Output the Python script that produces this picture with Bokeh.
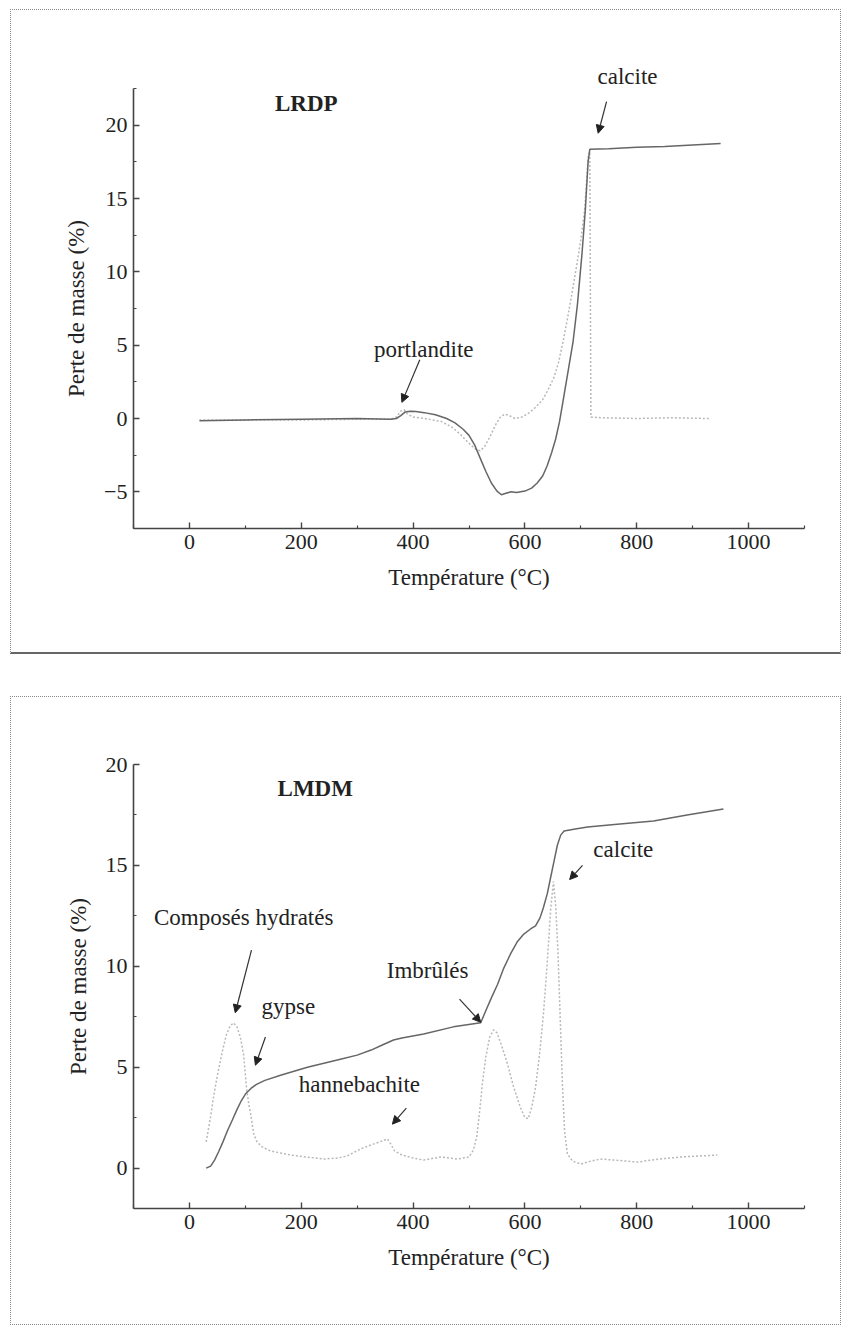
from bokeh.plotting import figure
from bokeh.layouts import column
from bokeh.models import Label, Arrow, NormalHead, Range1d, FixedTicker
from bokeh.embed import file_html
from bokeh.resources import INLINE

# ---- LRDP (top panel) ----
lrdp_tg_t = [18, 100, 200, 300, 360, 370, 378, 386, 395, 405, 420, 440, 460, 475, 490, 500, 510, 520, 530, 540,
             550, 558, 566, 575, 585, 600, 612, 622, 632, 640, 648, 655, 662, 670, 678, 686, 694, 702, 708, 713,
             716, 750, 800, 850, 900, 950]
lrdp_tg_v = [-0.15, -0.1, -0.05, 0.0, -0.05, 0.0, 0.2, 0.45, 0.5, 0.48, 0.4, 0.25, 0.0, -0.3, -0.75, -1.15, -1.8,
             -2.7, -3.6, -4.4, -4.95, -5.2, -5.1, -5.0, -5.05, -4.95, -4.75, -4.4, -3.9, -3.2, -2.3, -1.4, -0.2,
             1.6, 3.4, 5.2, 7.8, 11.2, 14.2, 17.5, 18.35, 18.4, 18.5, 18.55, 18.65, 18.75]
lrdp_dtg_t = [18, 100, 200, 300, 360, 370, 378, 384, 390, 400, 420, 450, 470, 485, 500, 512, 520, 528, 538, 548,
              556, 564, 572, 582, 595, 608, 620, 632, 642, 652, 660, 668, 676, 684, 692, 700, 707, 713, 716, 718,
              740, 800, 860, 930]
lrdp_dtg_v = [-0.1, -0.1, -0.1, -0.05, -0.05, 0.1, 0.5, 0.6, 0.3, 0.1, 0.0, -0.2, -0.6, -1.1, -1.7, -2.1, -2.2,
              -1.9, -1.2, -0.4, 0.1, 0.3, 0.2, 0.0, 0.1, 0.4, 0.8, 1.3, 2.0, 2.8, 3.8, 5.2, 6.8, 8.5, 10.3, 12.2,
              14.3, 17.8, 18.2, 0.1, 0.05, 0.0, 0.05, 0.0]

# ---- LMDM (bottom panel) ----
lmdm_tg_t = [30, 38, 45, 52, 60, 68, 77, 85, 93, 101, 110, 120, 135, 163, 211, 270, 300, 325, 345, 365, 380, 419,
             472, 521, 530, 541, 551, 562, 574, 586, 598, 610, 619, 627, 633, 640, 646, 652, 658, 664, 670, 690,
             712, 770, 830, 890, 955]
lmdm_tg_v = [0.0, 0.1, 0.4, 0.8, 1.3, 1.85, 2.4, 2.9, 3.35, 3.7, 3.95, 4.15, 4.35, 4.6, 5.0, 5.4, 5.6, 5.85, 6.1,
             6.35, 6.45, 6.65, 7.0, 7.2, 7.8, 8.5, 9.1, 9.9, 10.6, 11.2, 11.6, 11.85, 12.0, 12.4, 12.9, 13.6, 14.4,
             15.2, 16.0, 16.5, 16.7, 16.8, 16.9, 17.05, 17.2, 17.5, 17.8]
lmdm_dtg_t = [30, 37, 43, 50, 59, 66, 73, 79, 85, 91, 97, 102, 106, 110, 115, 121, 130, 145, 181, 210, 240, 265,
              282, 306, 330, 345, 354, 360, 367, 380, 400, 419, 449, 479, 500, 508, 514, 519, 524, 530, 537, 544,
              550, 558, 569, 580, 592, 600, 606, 612, 619, 626, 633, 640, 646, 651, 655, 659, 663, 667, 671, 676,
              685, 700, 718, 735, 760, 801, 840, 878, 944]
lmdm_dtg_v = [1.3, 2.4, 3.5, 4.6, 5.8, 6.6, 7.05, 7.2, 7.0, 6.5, 5.6, 4.0, 3.2, 2.6, 1.7, 1.3, 1.05, 0.85, 0.65,
              0.55, 0.45, 0.5, 0.6, 0.95, 1.2, 1.35, 1.45, 1.2, 0.85, 0.65, 0.5, 0.4, 0.55, 0.45, 0.55, 0.9, 1.6,
              2.8, 4.2, 5.5, 6.5, 6.85, 6.7, 6.1, 5.15, 4.0, 3.0, 2.5, 2.45, 3.0, 4.0, 5.6, 7.6, 10.2, 12.8, 14.2,
              13.0, 10.8, 7.5, 4.2, 1.8, 0.7, 0.35, 0.2, 0.35, 0.45, 0.4, 0.3, 0.45, 0.55, 0.65]

x_major = [0, 200, 400, 600, 800, 1000]
x_minor = [-100, 100, 300, 500, 700, 900, 1100]

x_title = "Température (°C)"
y_title = "Perte de masse (%)"

# annotations: (text, x, y, bold)
lrdp_labels = [("LRDP", 209, 21.5, True), ("portlandite", 419, 4.7, False)]
lrdp_top_label = "calcite"
lrdp_arrows = [(746, 21.6, 731, 19.45), (412, 4.0, 380, 1.1)]
lmdm_labels = [("LMDM", 225, 18.8, True), ("Composés hydratés", 97, 12.4, False), ("gypse", 177, 8.0, False),
               ("hannebachite", 304, 4.15, False), ("Imbrûlés", 426, 9.8, False), ("calcite", 776, 15.8, False)]
lmdm_arrows = [(111, 10.8, 82, 7.7), (136, 6.5, 118, 5.1), (388, 2.97, 363, 2.18), (483, 8.37, 521, 7.23),
               (703, 15.0, 680, 14.3)]

FONT = "Liberation Serif"
AX = "#444444"


def make_panel(tg_t, tg_v, dtg_t, dtg_v, yr, y_major, y_minor, labels, arrows,
               height, mb_top, mb_bottom, mb_left, mb_right, styles, margin):
    p = figure(width=831, height=height, output_backend="svg", toolbar_location=None,
               x_range=Range1d(-100, 1100), y_range=Range1d(*yr),
               min_border_top=mb_top, min_border_bottom=mb_bottom,
               min_border_left=mb_left, min_border_right=mb_right,
               styles=styles, margin=margin)
    p.outline_line_color = None
    p.grid.visible = False
    p.background_fill_color = "white"
    p.border_fill_color = "white"

    p.line(dtg_t, dtg_v, line_color="#b8b8b8", line_width=1.5, line_dash="2 2")
    p.line(tg_t, tg_v, line_color="#666666", line_width=1.5)

    p.xaxis.ticker = FixedTicker(ticks=x_major, minor_ticks=x_minor)
    p.yaxis.ticker = FixedTicker(ticks=y_major, minor_ticks=y_minor)
    for ax in (p.xaxis[0], p.yaxis[0]):
        ax.axis_line_color = AX
        ax.axis_line_width = 1.6
        ax.major_tick_line_color = AX
        ax.minor_tick_line_color = AX
        ax.major_tick_line_width = 1.4
        ax.minor_tick_line_width = 1.2
        ax.major_tick_in = 6
        ax.major_tick_out = 0
        ax.minor_tick_in = 3
        ax.minor_tick_out = 0
        ax.major_label_text_font = FONT
        ax.major_label_text_font_size = "22px"
        ax.major_label_text_color = "#222222"
        ax.axis_label_text_font = FONT
        ax.axis_label_text_font_size = "23px"
        ax.axis_label_text_font_style = "normal"
        ax.axis_label_text_color = "#222222"
    p.xaxis.axis_label = x_title
    p.yaxis.axis_label = y_title
    p.xaxis.major_label_standoff = 6
    p.xaxis.axis_label_standoff = 13
    p.yaxis.major_label_standoff = 6
    p.yaxis.axis_label_standoff = 12

    for txt, x, y, bold in labels:
        p.add_layout(Label(x=x, y=y, text=txt, text_align="center", text_baseline="middle",
                           text_font=FONT, text_font_size="23px",
                           text_font_style="bold" if bold else "normal",
                           text_color="#222222"))
    for x0, y0, x1, y1 in arrows:
        p.add_layout(Arrow(end=NormalHead(size=8, fill_color="#222222", line_color="#222222"),
                           x_start=x0, y_start=y0, x_end=x1, y_end=y1,
                           line_color="#333333", line_width=1.2))
    return p


p1 = make_panel(lrdp_tg_t, lrdp_tg_v, lrdp_dtg_t, lrdp_dtg_v, (-7.5, 22.5),
                [-5, 0, 5, 10, 15, 20], [-7.5, -2.5, 2.5, 7.5, 12.5, 17.5, 22.5],
                lrdp_labels, lrdp_arrows,
                height=645, mb_top=78, mb_bottom=127, mb_left=119, mb_right=37,
                styles={"border": "1px dotted #888888", "border-bottom": "2px solid #666666"},
                margin=(9, 0, 0, 10))
# "calcite" label of the top panel sits above the plotting frame: use the title slot
p1.title.text = lrdp_top_label
p1.title.align = "left"
p1.title.offset = 464
p1.title.standoff = 0
p1.title.text_font = FONT
p1.title.text_font_size = "23px"
p1.title.text_font_style = "normal"
p1.title.text_color = "#222222"

p2 = make_panel(lmdm_tg_t, lmdm_tg_v, lmdm_dtg_t, lmdm_dtg_v, (-2, 20),
                [0, 5, 10, 15, 20], [-2.5, 2.5, 7.5, 12.5, 17.5],
                lmdm_labels, lmdm_arrows,
                height=629, mb_top=67, mb_bottom=118, mb_left=122, mb_right=38,
                styles={"border": "1px dotted #888888"},
                margin=(42, 0, 0, 10))

layout = column(p1, p2, spacing=0)
open("out.html", "w").write(file_html(layout, INLINE))
